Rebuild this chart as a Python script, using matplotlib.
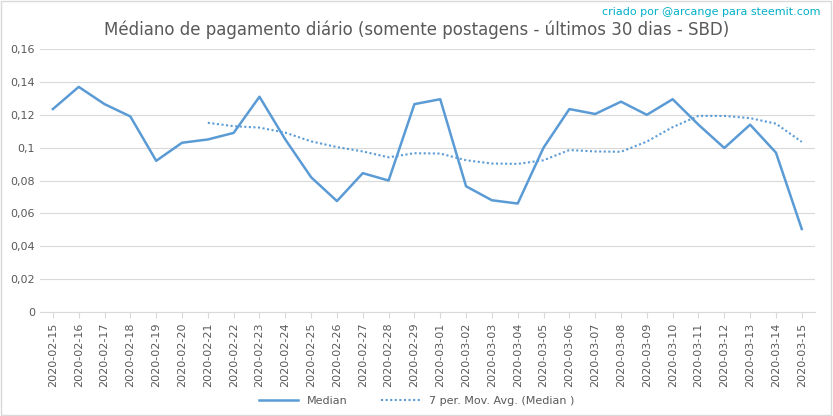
import pandas as pd
import matplotlib.pyplot as plt
from matplotlib.ticker import FuncFormatter

dates = pd.date_range("2020-02-15", "2020-03-15").strftime("%Y-%m-%d").tolist()
median = [0.1235, 0.137, 0.1265, 0.119, 0.092, 0.103, 0.105, 0.109, 0.131, 0.105,
          0.082, 0.0675, 0.0845, 0.080, 0.1265, 0.1295, 0.0765, 0.068, 0.066, 0.100,
          0.1235, 0.1205, 0.128, 0.120, 0.1295, 0.114, 0.0998, 0.114, 0.097, 0.0505]
mov_avg = pd.Series(median).rolling(7).mean()

blue = "#5b9bd5"
grey = "#595959"

fig = plt.figure(figsize=(8.33, 4.16), dpi=100)
ax = fig.add_axes([0.048, 0.25, 0.93, 0.632])
x = range(len(dates))
ax.plot(x, median, color=blue, lw=1.8, label="Median")
ax.plot(x, mov_avg, color=blue, lw=1.5, ls=(0, (1, 1.2)), label="7 per. Mov. Avg. (Median )")

ax.set_ylim(0, 0.16)
ax.set_yticks([i * 0.02 for i in range(9)])
ax.yaxis.set_major_formatter(FuncFormatter(lambda v, p: f"{round(v, 2):g}".replace(".", ",")))
ax.set_xlim(-0.5, len(dates) - 0.5)
ax.set_xticks(list(x))
ax.set_xticklabels(dates, rotation=90)
ax.tick_params(labelsize=8, colors=grey, length=0)
ax.tick_params(axis="x", length=4, color="#d9d9d9")
ax.grid(axis="y", color="#d9d9d9", lw=0.8)
ax.set_axisbelow(True)
for s in ["top", "right", "left"]:
    ax.spines[s].set_visible(False)
ax.spines["bottom"].set_color("#d9d9d9")

fig.text(0.5, 0.915, "Médiano de pagamento diário (somente postagens - últimos 30 dias - SBD)",
         ha="center", fontsize=12, color=grey)
fig.text(0.985, 0.965, "criado por @arcange para steemit.com", ha="right", fontsize=8, color="#00b0c8")
fig.legend(loc="lower center", bbox_to_anchor=(0.5, 0.0), ncol=2, frameon=False, fontsize=8,
           labelcolor=grey, handlelength=3.5, columnspacing=3)
fig.patches.append(plt.Rectangle((0.001, 0.002), 0.997, 0.995, transform=fig.transFigure,
                                 fill=False, edgecolor="#d9d9d9", lw=1))
fig.savefig("out.png", dpi=100)
